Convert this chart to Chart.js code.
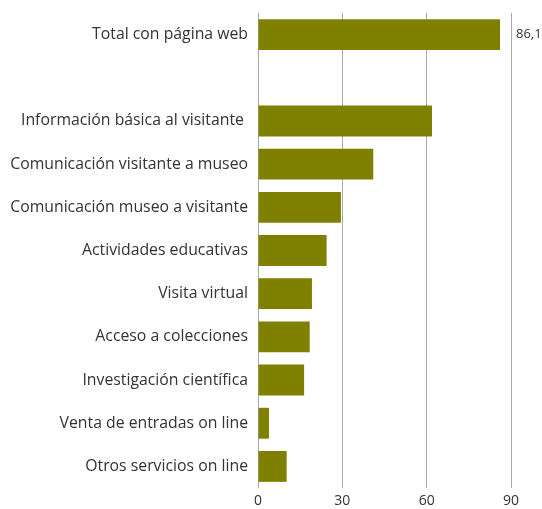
<!DOCTYPE html>
<html>
<head>
<meta charset="utf-8">
<script src="https://cdn.jsdelivr.net/npm/chart.js@4"></script>
<style>
html,body{margin:0;padding:0;background:#fff;}
#wrap{width:542px;height:509px;position:relative;}
</style>
</head>
<body>
<div id="wrap"><canvas id="c" width="542" height="509"></canvas></div>
<script>
const categories = [
  "Total con página web",
  "",
  "Información básica al visitante ",
  "Comunicación visitante a museo",
  "Comunicación museo a visitante",
  "Actividades educativas",
  "Visita virtual",
  "Acceso a colecciones",
  "Investigación científica",
  "Venta de entradas on line",
  "Otros servicios on line"
];
const values = [86.1, null, 61.9, 41.0, 29.5, 24.4, 19.2, 18.4, 16.4, 3.9, 10.2];
const valueLabels = ["86,1", "", "", "", "", "", "", "", "", "", ""];
const xTicks = [0, 30, 60, 90];

const FONT = "'Open Sans'";
const labelPlugin = {
  id: 'valLabels',
  afterDatasetsDraw(chart) {
    const ctx = chart.ctx;
    const meta = chart.getDatasetMeta(0);
    ctx.save();
    ctx.font = "13px " + FONT;
    ctx.fillStyle = "#333";
    ctx.textBaseline = "middle";
    ctx.textAlign = "left";
    meta.data.forEach((bar, i) => {
      if (valueLabels[i]) {
        ctx.fillText(valueLabels[i], chart.chartArea.right + 5, bar.y);
      }
    });
    ctx.restore();
  }
};

new Chart(document.getElementById('c'), {
  type: 'bar',
  data: {
    labels: categories,
    datasets: [{
      data: values,
      backgroundColor: '#808000',
      borderWidth: 0,
      barPercentage: 0.715,
      categoryPercentage: 1.0
    }]
  },
  options: {
    indexAxis: 'y',
    responsive: false,
    animation: false,
    events: [],
    layout: { padding: { top: 13, right: 31, left: 0, bottom: 0 } },
    plugins: { legend: { display: false }, tooltip: { enabled: false } },
    scales: {
      x: {
        min: 0, max: 90,
        afterBuildTicks(axis) { axis.ticks = xTicks.map(v => ({ value: v })); },
        grid: { color: '#aaaaaa', lineWidth: 1, drawTicks: false },
        border: { display: false },
        ticks: { font: { family: FONT, size: 14 }, color: '#333', padding: 5 },
        afterFit(axis) { axis.height = 21; axis.paddingLeft = 0; axis.paddingRight = 0; }
      },
      y: {
        grid: { display: false, drawTicks: false },
        border: { display: false },
        ticks: { font: { family: FONT, size: 15.8 }, color: '#333', padding: 10, autoSkip: false },
        afterFit(axis) { axis.width = 258; axis.paddingTop = 0; axis.paddingBottom = 0; }
      }
    }
  },
  plugins: [labelPlugin]
});
</script>
</body>
</html>
